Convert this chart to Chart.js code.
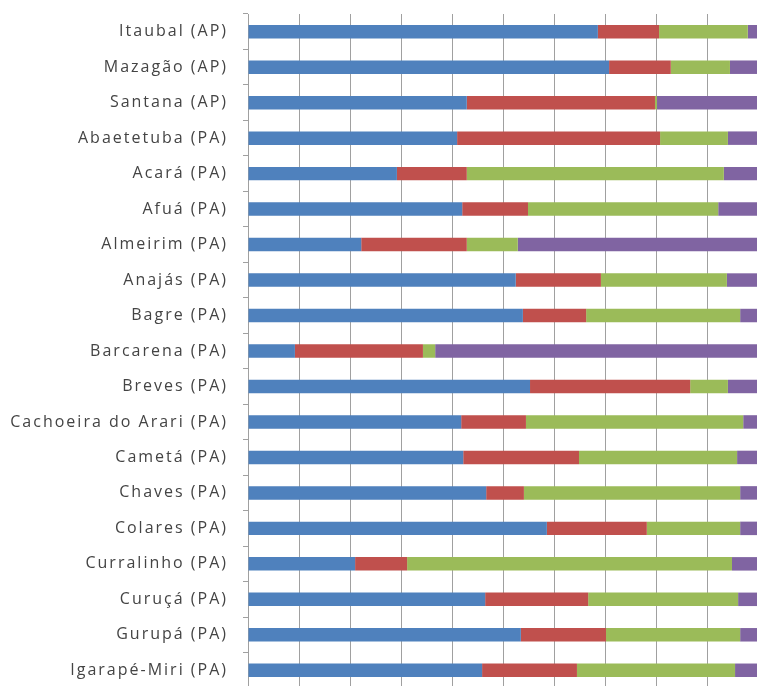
<!DOCTYPE html>
<html>
<head>
<meta charset="utf-8">
<script src="https://cdn.jsdelivr.net/npm/chart.js@4/dist/chart.umd.min.js"></script>
<style>
  html, body { margin: 0; padding: 0; background: #fff; overflow: hidden; }
  #wrap { width: 760px; height: 700px; position: relative; }
</style>
</head>
<body>
<div id="wrap"><canvas id="chart"></canvas></div>
<script>
// municipalities, top to bottom
const categories = [
  "Itaubal (AP)", "Mazagão (AP)", "Santana (AP)", "Abaetetuba (PA)", "Acará (PA)",
  "Afuá (PA)", "Almeirim (PA)", "Anajás (PA)", "Bagre (PA)", "Barcarena (PA)",
  "Breves (PA)", "Cachoeira do Arari (PA)", "Cametá (PA)", "Chaves (PA)", "Colares (PA)",
  "Curralinho (PA)", "Curuçá (PA)", "Gurupá (PA)", "Igarapé-Miri (PA)"
];

// shares in % (each row ~100)
const blueVals   = [68.6, 70.8, 42.9, 41.0, 29.2, 42.0, 22.2, 52.5, 53.9, 9.2, 55.3, 41.8, 42.2, 46.7, 58.6, 21.0, 46.5, 53.5, 45.9];
const redVals    = [12.0, 12.1, 36.9, 39.8, 13.7, 12.9, 20.7, 16.7, 12.4, 25.1, 31.4, 12.7, 22.7, 7.4, 19.6, 10.2, 20.2, 16.7, 18.6];
const greenVals  = [17.4, 11.6, 0.4, 13.3, 50.4, 37.3, 10.0, 24.7, 30.2, 2.4, 7.4, 42.6, 31.0, 42.4, 18.3, 63.7, 29.4, 26.3, 31.0];
const purpleVals = [2.0, 5.5, 19.8, 5.9, 6.7, 7.8, 47.1, 6.1, 3.5, 63.3, 5.9, 2.9, 4.1, 3.5, 3.5, 5.1, 3.9, 3.5, 4.5];

const xTicks = [0, 10, 20, 30, 40, 50, 60, 70, 80, 90, 100];

const seriesColors = ["#4F81BD", "#C0504D", "#9BBB59", "#8064A2"];
const seriesData = [blueVals, redVals, greenVals, purpleVals];

const datasets = seriesData.map((vals, i) => ({
  label: "s" + (i + 1),
  data: vals,
  backgroundColor: seriesColors[i],
  borderWidth: 0,
  barPercentage: 0.38,
  categoryPercentage: 1
}));

// the labels in the picture are widely spaced
const spacing = {
  id: "spacing",
  beforeUpdate(chart) { chart.ctx.letterSpacing = "2px"; },
  beforeDraw(chart) { chart.ctx.letterSpacing = "2px"; }
};

new Chart(document.getElementById("chart"), {
  type: "bar",
  data: { labels: categories, datasets },
  plugins: [spacing],
  options: {
    indexAxis: "y",
    responsive: true,
    maintainAspectRatio: false,
    animation: false,
    layout: { padding: { top: 14, bottom: 12, right: 2, left: 0 } },
    plugins: { legend: { display: false }, tooltip: { enabled: false } },
    scales: {
      x: {
        stacked: true,
        min: 0,
        max: 100,
        afterBuildTicks: (s) => { s.ticks = xTicks.map(v => ({ value: v })); },
        afterFit: (s) => { s.height = 0; },
        ticks: { display: false },
        grid: { color: "#a0a0a0", lineWidth: 1, drawTicks: false },
        border: { display: false }
      },
      y: {
        stacked: true,
        afterFit: (s) => { s.width = 248; s.paddingTop = 0; s.paddingBottom = 0; },
        ticks: {
          color: "#444444",
          padding: 15,
          font: { family: "'Open Sans', sans-serif", size: 16 }
        },
        grid: { offset: true, drawOnChartArea: false, drawTicks: true, tickLength: 5, color: "#a0a0a0" },
        border: { display: true, color: "#a0a0a0", width: 1 }
      }
    }
  }
});
</script>
</body>
</html>
